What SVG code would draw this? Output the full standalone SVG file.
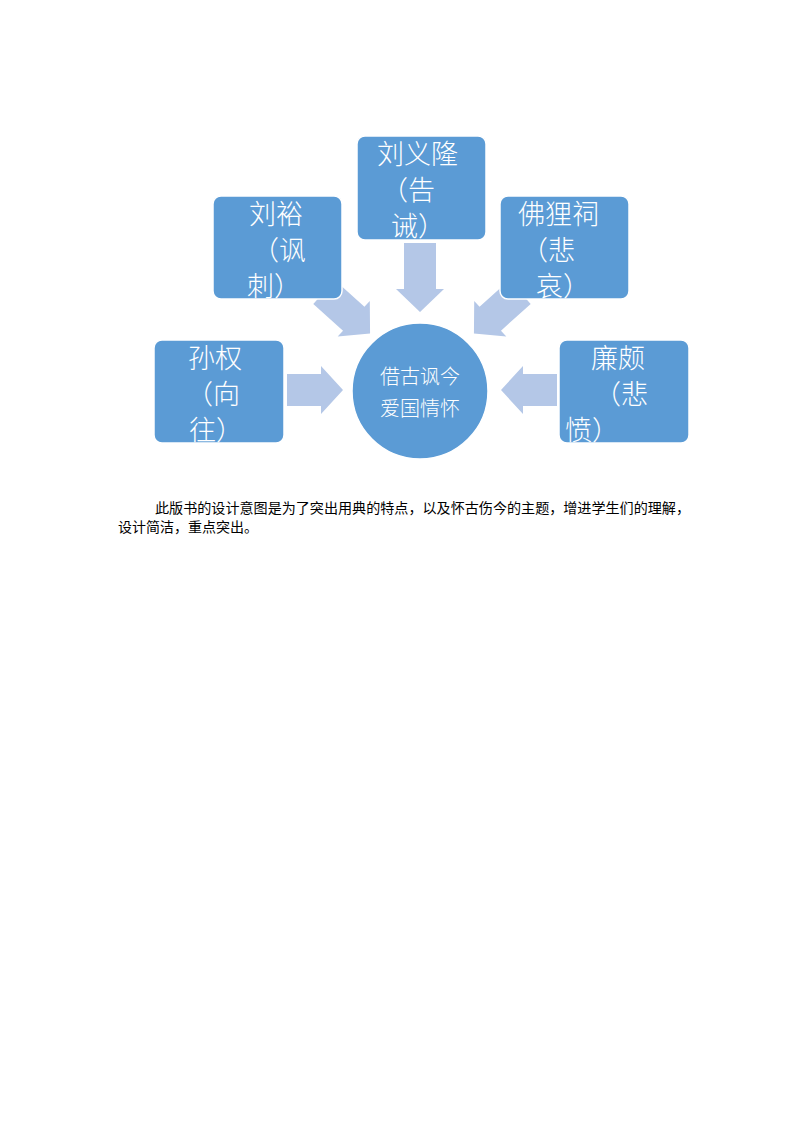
<svg xmlns="http://www.w3.org/2000/svg" width="800" height="1132" viewBox="0 0 800 1132">
<style>
.box{fill:#5b9bd5;stroke:#ffffff;stroke-width:1.5}
.arr{fill:#b4c7e7}
.t{font-family:"Noto Sans CJK SC",sans-serif;font-size:27px;fill:#ffffff;font-weight:300}
.c{font-family:"Noto Sans CJK SC",sans-serif;font-size:20px;fill:#ffffff;font-weight:300}
.p{font-family:"Liberation Serif","Noto Sans CJK SC",serif;font-size:14px;fill:#000}
</style>
<rect width="800" height="1132" fill="#ffffff"/>
<g id="connectors">
<polygon class="arr" points="0,-16 34,-16 34,-24 56,0 34,24 34,16 0,16" transform="translate(287,390)"/>
<polygon class="arr" points="0,-16 34,-16 34,-24 56,0 34,24 34,16 0,16" transform="translate(557,390) rotate(180)"/>
<polygon class="arr" points="0,-16 46,-16 46,-24 69,0 46,24 46,16 0,16" transform="translate(420,243) rotate(90)"/>
<polygon class="arr" points="0,-16 40,-16 40,-24 62,0 40,24 40,16 0,16" transform="translate(324,292) rotate(42)"/>
<polygon class="arr" points="0,-16 40,-16 40,-24 62,0 40,24 40,16 0,16" transform="translate(520,292) rotate(138)"/>
</g>
<g id="center"><circle cx="420" cy="391" r="68" class="box"/>
<text class="c" x="420" y="384" text-anchor="middle">借古讽今</text>
<text class="c" x="420" y="416" text-anchor="middle">爱国情怀</text></g>
<g id="liuyilong"><rect x="357" y="136" width="129" height="104" rx="8" class="box"/>
<text class="t" x="377" y="164">刘义隆</text><text class="t" x="381" y="200">（告</text><text class="t" x="391" y="236">诫）</text></g>
<g id="liuyu"><rect x="213" y="196" width="129" height="103" rx="8" class="box"/>
<text class="t" x="249" y="224">刘裕</text><text class="t" x="252" y="260">（讽</text><text class="t" x="247" y="296">刺）</text></g>
<g id="folici"><rect x="500" y="196" width="129" height="103" rx="8" class="box"/>
<text class="t" x="518" y="224">佛狸祠</text><text class="t" x="521" y="260">（悲</text><text class="t" x="536" y="296">哀）</text></g>
<g id="sunquan"><rect x="154" y="340" width="130" height="103" rx="8" class="box"/>
<text class="t" x="188" y="368">孙权</text><text class="t" x="186" y="404">（向</text><text class="t" x="189" y="440">往）</text></g>
<g id="lianpo"><rect x="559" y="340" width="130" height="103" rx="8" class="box"/>
<text class="t" x="591" y="368">廉颇</text><text class="t" x="594" y="404">（悲</text><text class="t" x="565" y="440">愤）</text></g>
<text class="p" x="155" y="513" textLength="535" lengthAdjust="spacingAndGlyphs">此版书的设计意图是为了突出用典的特点，以及怀古伤今的主题，增进学生们的理解，</text>
<text class="p" x="118" y="532">设计简洁，重点突出。</text>
</svg>
